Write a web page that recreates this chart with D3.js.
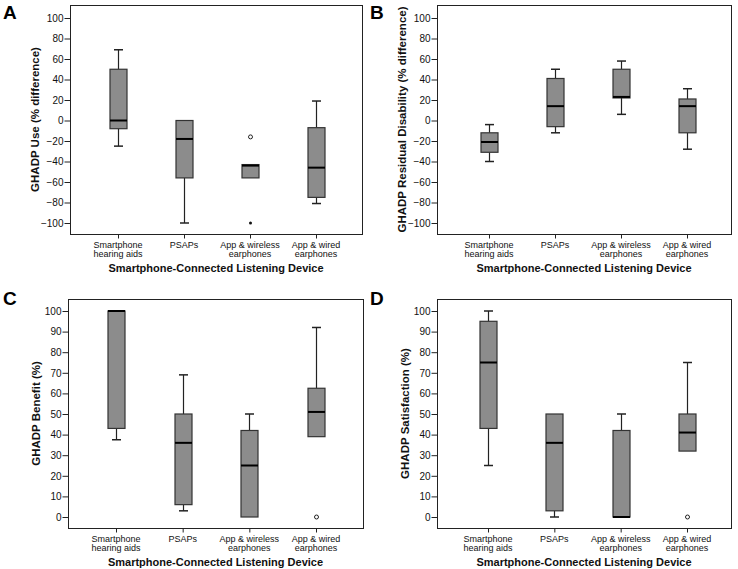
<!DOCTYPE html>
<html>
<head>
<meta charset="utf-8">
<script src="https://cdn.jsdelivr.net/npm/d3@7"></script>
<style>
  html, body { margin: 0; padding: 0; background: #fff; }
  svg { display: block; font-family: "Liberation Sans", Arial, Helvetica, sans-serif; }
</style>
</head>
<body>
<svg id="chart" width="738" height="569"></svg>
<script>
// ---- Data ----
const categories = ["Smartphone hearing aids", "PSAPs", "App & wireless earphones", "App & wired earphones"];
const categoryLines = [["Smartphone", "hearing aids"], ["PSAPs"], ["App & wireless", "earphones"], ["App & wired", "earphones"]];
const xAxisTitle = "Smartphone-Connected Listening Device";

const diffTicks = [-100, -80, -60, -40, -20, 0, 20, 40, 60, 80, 100];
const pctTicks = [0, 10, 20, 30, 40, 50, 60, 70, 80, 90, 100];

// [lower whisker, Q1, median, Q3, upper whisker]
const useStats = [[-25, -8, 0, 50, 69], [-100, -56, -18, 0, 0], [-56, -56, -44, -43, -43], [-81, -75, -46, -7, 19]];
const useOutliers = [[], [], [-16], []];
const useExtremes = [[], [], [-100], []];

const residualStats = [[-40, -31, -21, -12, -4], [-12, -6, 14, 41, 50], [6, 22, 23, 50, 58], [-28, -12, 14, 21, 31]];
const residualOutliers = [[], [], [], []];
const residualExtremes = [[], [], [], []];

const benefitStats = [[37.5, 43, 100, 100, 100], [3, 6, 36, 50, 69], [0, 0, 25, 42, 50], [39, 39, 51, 62.5, 92]];
const benefitOutliers = [[], [], [], [0]];
const benefitExtremes = [[], [], [], []];

const satisfactionStats = [[25, 43, 75, 95, 100], [0, 3, 36, 50, 50], [0, 0, 0, 42, 50], [32, 32, 41, 50, 75]];
const satisfactionOutliers = [[], [], [], [0]];
const satisfactionExtremes = [[], [], [], []];

// ---- Panels (layout) ----
const panels = [
  { letter: "A", lx: 3, ly: 19, frame: [70, 362, 5, 234], cx: [118, 316], yr: [223, 18], domain: [-100, 100], ticks: diffTicks,
    title: "GHADP Use (% difference)", titleOff: 35, stats: useStats, outliers: useOutliers, extremes: useExtremes },
  { letter: "B", lx: 370, ly: 19, frame: [437, 731, 5, 234], cx: [489, 687], yr: [223, 18], domain: [-100, 100], ticks: diffTicks,
    title: "GHADP Residual Disability (% difference)", titleOff: 35, stats: residualStats, outliers: residualOutliers, extremes: residualExtremes },
  { letter: "C", lx: 3, ly: 305, frame: [68, 363, 299, 528], cx: [116, 316], yr: [517, 311], domain: [0, 100], ticks: pctTicks,
    title: "GHADP Benefit (%)", titleOff: 32, stats: benefitStats, outliers: benefitOutliers, extremes: benefitExtremes },
  { letter: "D", lx: 370, ly: 305, frame: [437, 731, 299, 528], cx: [488, 687], yr: [517, 311], domain: [0, 100], ticks: pctTicks,
    title: "GHADP Satisfaction (%)", titleOff: 32, stats: satisfactionStats, outliers: satisfactionOutliers, extremes: satisfactionExtremes }
];

const svg = d3.select("#chart");
const boxW = 17, capW = 9;
const fillCol = "#8c8c8c";

panels.forEach(p => {
  const [fl, fr, ft, fb] = p.frame;
  const g = svg.append("g");
  const y = d3.scaleLinear().domain(p.domain).range(p.yr);
  const x = d3.scalePoint().domain(categories).range(p.cx);

  // frame
  g.append("rect").attr("x", fl + 0.5).attr("y", ft + 0.5).attr("width", fr - fl).attr("height", fb - ft)
    .attr("fill", "none").attr("stroke", "#222").attr("stroke-width", 1);

  // y axis
  const yAxis = d3.axisLeft(y).tickValues(p.ticks).tickSize(6).tickPadding(1)
    .tickFormat(d => d < 0 ? "\u2212" + Math.abs(d) : String(d));
  const ya = g.append("g").attr("transform", `translate(${fl + 0.5},0)`).call(yAxis);
  ya.select(".domain").remove();
  ya.selectAll("line").attr("stroke", "#222");
  ya.selectAll("text").attr("font-size", 10).attr("fill", "#111").attr("font-family", "Liberation Sans, Arial, sans-serif");

  // x axis ticks
  const xAxis = d3.axisBottom(x).tickSize(4).tickFormat("");
  const xa = g.append("g").attr("transform", `translate(0,${fb + 0.5})`).call(xAxis);
  xa.select(".domain").remove();
  xa.selectAll("line").attr("stroke", "#222");

  // category labels
  categories.forEach((c, i) => {
    const t = g.append("text").attr("x", x(c)).attr("text-anchor", "middle")
      .attr("font-size", 9).attr("fill", "#111");
    categoryLines[i].forEach((ln, j) => {
      t.append("tspan").attr("x", x(c)).attr("y", fb + 14 + j * 9).text(ln);
    });
  });

  // x title
  g.append("text").attr("x", (fl + fr) / 2).attr("y", fb + 38).attr("text-anchor", "middle")
    .attr("font-size", 11).attr("font-weight", "bold").attr("fill", "#111").text(xAxisTitle);

  // y title
  const ty = (ft + fb) / 2, tx = fl - p.titleOff;
  g.append("text").attr("transform", `translate(${tx},${ty}) rotate(-90)`).attr("text-anchor", "middle")
    .attr("dominant-baseline", "central")
    .attr("font-size", 11.5).attr("font-weight", "bold").attr("fill", "#111").text(p.title);

  // panel letter
  g.append("text").attr("x", p.lx).attr("y", p.ly).attr("font-size", 19).attr("font-weight", "bold")
    .attr("fill", "#000").text(p.letter);

  // boxes
  categories.forEach((c, i) => {
    const [lo, q1, med, q3, hi] = p.stats[i];
    const cx = Math.round(x(c)) + 0.5;
    const bg = g.append("g");
    if (hi > q3) {
      bg.append("line").attr("x1", cx).attr("x2", cx).attr("y1", y(q3)).attr("y2", y(hi)).attr("stroke", "#222").attr("stroke-width", 1.2);
      bg.append("line").attr("x1", cx - capW / 2).attr("x2", cx + capW / 2).attr("y1", y(hi)).attr("y2", y(hi)).attr("stroke", "#222").attr("stroke-width", 1.5);
    }
    if (lo < q1) {
      bg.append("line").attr("x1", cx).attr("x2", cx).attr("y1", y(q1)).attr("y2", y(lo)).attr("stroke", "#222").attr("stroke-width", 1.2);
      bg.append("line").attr("x1", cx - capW / 2).attr("x2", cx + capW / 2).attr("y1", y(lo)).attr("y2", y(lo)).attr("stroke", "#222").attr("stroke-width", 1.5);
    }
    bg.append("rect").attr("x", cx - boxW / 2).attr("y", y(q3)).attr("width", boxW).attr("height", Math.max(0, y(q1) - y(q3)))
      .attr("fill", fillCol).attr("stroke", "#333").attr("stroke-width", 1.2);
    bg.append("line").attr("x1", cx - boxW / 2).attr("x2", cx + boxW / 2).attr("y1", y(med)).attr("y2", y(med))
      .attr("stroke", "#000").attr("stroke-width", 2);
    p.outliers[i].forEach(v => {
      bg.append("circle").attr("cx", cx).attr("cy", y(v)).attr("r", 2).attr("fill", "#fff").attr("stroke", "#222").attr("stroke-width", 1);
    });
    p.extremes[i].forEach(v => {
      bg.append("circle").attr("cx", cx).attr("cy", y(v)).attr("r", 1.5).attr("fill", "#111").attr("stroke", "none");
    });
  });
});
</script>
</body>
</html>
